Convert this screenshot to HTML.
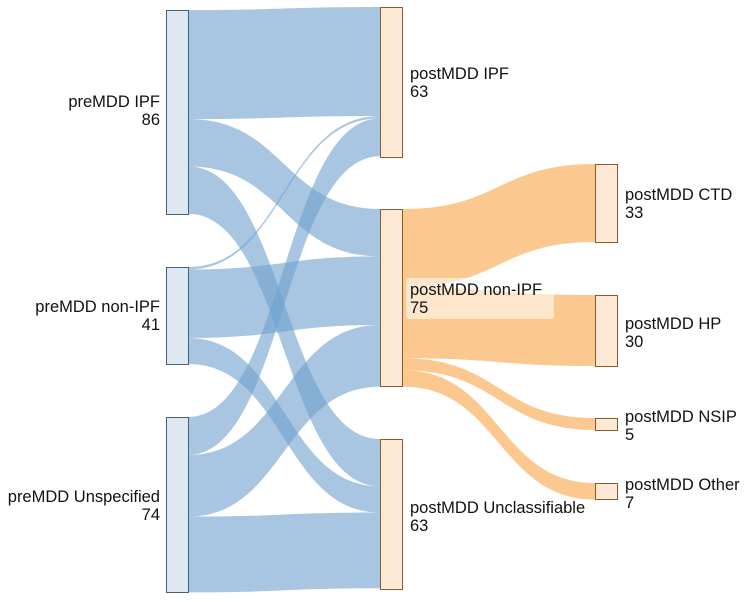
<!DOCTYPE html>
<html><head><meta charset="utf-8"><style>
body{margin:0;background:#fff;}
svg text{font-family:"Liberation Sans",sans-serif;font-size:16.5px;fill:#111;}
</style></head><body>
<svg width="749" height="597" xmlns="http://www.w3.org/2000/svg">
<g fill="rgb(110,160,205)" fill-opacity="0.6">
<path d="M188,10 C284,10 284,7 380,7 L380,116 C284,116 284,119 188,119 Z"/>
<path d="M188,119 C284,119 284,209 380,209 L380,256.4 C284,256.4 284,166.4 188,166.4 Z"/>
<path d="M188,166.4 C284,166.4 284,439 380,439 L380,486.4 C284,486.4 284,213.8 188,213.8 Z"/>
<path d="M188,267 C284,267 284,116 380,116 L380,118.4 C284,118.4 284,269.4 188,269.4 Z"/>
<path d="M188,269.4 C284,269.4 284,256.4 380,256.4 L380,325 C284,325 284,338 188,338 Z"/>
<path d="M188,338 C284,338 284,486.4 380,486.4 L380,512.5 C284,512.5 284,364 188,364 Z"/>
<path d="M188,417 C284,417 284,118.4 380,118.4 L380,156.3 C284,156.3 284,455 188,455 Z"/>
<path d="M188,455 C284,455 284,325 380,325 L380,386.7 C284,386.7 284,516.6 188,516.6 Z"/>
<path d="M188,516.6 C284,516.6 284,512.5 380,512.5 L380,588.3 C284,588.3 284,592.4 188,592.4 Z"/>
</g>
<g fill="rgb(250,178,95)" fill-opacity="0.7">
<path d="M403,209 C499,209 499,164 595,164 L595,242 C499,242 499,287.2 403,287.2 Z"/>
<path d="M403,287.2 C499,287.2 499,295 595,295 L595,366 C499,366 499,358.3 403,358.3 Z"/>
<path d="M403,358.3 C499,358.3 499,418 595,418 L595,430 C499,430 499,370.2 403,370.2 Z"/>
<path d="M403,370.2 C499,370.2 499,483 595,483 L595,499.6 C499,499.6 499,386.8 403,386.8 Z"/>
</g>
<g fill="#dde8f3" stroke="#4a6076" stroke-width="1">
<rect x="166.5" y="10.5" width="22" height="204"/>
<rect x="166.5" y="267.5" width="22" height="97"/>
<rect x="166.5" y="417.5" width="22" height="175"/>
</g>
<g fill="#fde9d5" stroke="#8a5a2a" stroke-width="1">
<rect x="380.5" y="7.5" width="22" height="150"/>
<rect x="380.5" y="209.5" width="22" height="177"/>
<rect x="380.5" y="439.5" width="22" height="150"/>
<rect x="595.5" y="164.5" width="22" height="78"/>
<rect x="595.5" y="295.5" width="22" height="71"/>
<rect x="595.5" y="418.5" width="22" height="12"/>
<rect x="595.5" y="483.5" width="22" height="16"/>
</g>
<rect x="406" y="278" width="148" height="41" rx="3" fill="#fff" fill-opacity="0.55"/>
<g text-anchor="end">
<text x="160" y="107">preMDD IPF</text><text x="160" y="125">86</text>
<text x="160" y="312">preMDD non-IPF</text><text x="160" y="330">41</text>
<text x="160" y="502">preMDD Unspecified</text><text x="160" y="520">74</text>
</g>
<text x="410" y="79">postMDD IPF</text><text x="410" y="97">63</text>
<text x="410" y="295">postMDD non-IPF</text><text x="410" y="313">75</text>
<text x="410" y="513">postMDD Unclassifiable</text><text x="410" y="531">63</text>
<text x="625" y="200">postMDD CTD</text><text x="625" y="218">33</text>
<text x="625" y="329">postMDD HP</text><text x="625" y="347">30</text>
<text x="625" y="422">postMDD NSIP</text><text x="625" y="440">5</text>
<text x="625" y="490">postMDD Other</text><text x="625" y="508">7</text>
</svg>
</body></html>
